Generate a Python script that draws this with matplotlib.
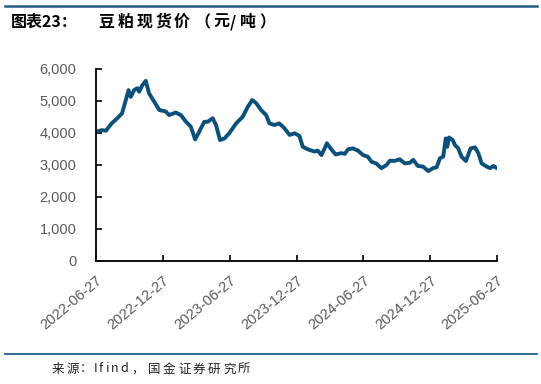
import matplotlib
matplotlib.use("Agg")
import matplotlib.pyplot as plt
from matplotlib.lines import Line2D
import pandas as pd

dates = [
    "2022-06-27", "2022-07-13", "2022-07-24", "2022-08-09", "2022-08-24", "2022-09-06",
    "2022-09-14", "2022-09-24", "2022-09-30", "2022-10-09", "2022-10-18", "2022-10-23",
    "2022-11-01", "2022-11-10", "2022-11-19", "2022-12-03", "2022-12-17", "2023-01-04",
    "2023-01-13", "2023-01-31", "2023-02-14", "2023-02-28", "2023-03-13", "2023-03-25",
    "2023-04-05", "2023-04-19", "2023-04-28", "2023-05-12", "2023-05-21", "2023-06-01",
    "2023-06-13", "2023-06-26", "2023-07-15", "2023-08-02", "2023-08-16", "2023-08-28",
    "2023-09-08", "2023-09-21", "2023-10-05", "2023-10-14", "2023-10-28", "2023-11-10",
    "2023-11-24", "2023-12-08", "2023-12-22", "2024-01-04", "2024-01-13", "2024-01-27",
    "2024-02-14", "2024-02-23", "2024-03-04", "2024-03-13", "2024-03-19", "2024-03-31",
    "2024-04-12", "2024-04-27", "2024-05-07", "2024-05-16", "2024-05-29", "2024-06-12",
    "2024-06-26", "2024-07-09", "2024-07-19", "2024-08-01", "2024-08-15", "2024-08-29",
    "2024-09-07", "2024-09-21", "2024-10-04", "2024-10-18", "2024-11-01", "2024-11-10",
    "2024-11-23", "2024-12-07", "2024-12-21", "2025-01-03", "2025-01-13", "2025-01-22",
    "2025-01-31", "2025-02-07", "2025-02-11", "2025-02-16", "2025-02-26", "2025-03-04",
    "2025-03-13", "2025-03-22", "2025-04-03", "2025-04-09", "2025-04-16", "2025-04-28",
    "2025-05-07", "2025-05-16", "2025-05-30", "2025-06-08", "2025-06-17", "2025-06-27",
]
prices = [
    4040, 4090, 4070, 4300, 4460, 4610,
    4930, 5340, 5130, 5340, 5400, 5290,
    5500, 5630, 5240, 4980, 4720, 4670,
    4560, 4640, 4560, 4350, 4200, 3800,
    4040, 4350, 4350, 4460, 4250, 3780,
    3830, 3990, 4300, 4510, 4820, 5030,
    4930, 4720, 4560, 4300, 4250, 4300,
    4150, 3940, 3990, 3910, 3570, 3490,
    3420, 3450, 3310, 3520, 3680, 3490,
    3330, 3370, 3350, 3490, 3520, 3450,
    3310, 3260, 3100, 3050, 2900, 3000,
    3130, 3130, 3180, 3050, 3070, 3160,
    2970, 2950, 2810, 2900, 2930, 3210,
    3260, 3830, 3570, 3860, 3780, 3625,
    3520, 3260, 3125, 3310, 3520, 3550,
    3370, 3050, 2950, 2900, 2970, 2900,
]
xtick_labels = ["2022-06-27", "2022-12-27", "2023-06-27", "2023-12-27",
                "2024-06-27", "2024-12-27", "2025-06-27"]
yticks = [0, 1000, 2000, 3000, 4000, 5000, 6000]

title_head = "图表23："
title_chars = ["豆", "粕", "现", "货", "价", "（", "元", "/", "吨", "）"]
source_chars = ["来", "源", "：", "I", "f", "i", "n", "d", "，",
                "国", "金", "证", "券", "研", "究", "所"]

# layout (pixel x positions of each glyph)
title_head_x = 11
title_x = [98, 118, 137, 155, 174, 194, 213, 230, 240, 259]
source_x = [52, 67, 80, 94, 99, 106, 111, 120, 131, 148, 163, 178, 193, 208, 223, 238]

W, H = 541, 384
fig = plt.figure(figsize=(W / 100, H / 100), dpi=100)
ax = fig.add_axes([96 / W, 1 - 261 / H, (497 - 96) / W, (261 - 69) / H])

x = pd.to_datetime(dates)
ax.plot(x, prices, color="#0b5078", linewidth=2.8, solid_joinstyle="round",
        solid_capstyle="round")

tick_dates = pd.to_datetime(xtick_labels)
ax.set_xlim(tick_dates[0], tick_dates[-1])
ax.set_ylim(0, 6000)
ax.set_xticks(tick_dates)
ax.set_xticklabels(xtick_labels, rotation=40, ha="right", rotation_mode="anchor",
                   fontsize=10.5, color="#595959", family="Liberation Sans")
ax.set_yticks(yticks)
ax.set_yticklabels([f"{v:,}" for v in yticks], fontsize=10.5, color="#595959",
                   family="Liberation Sans")
ax.tick_params(axis="both", direction="in", length=4, width=1.2, color="black")
ax.tick_params(axis="x", pad=9)
ax.tick_params(axis="y", pad=14)
for s in ["top", "right"]:
    ax.spines[s].set_visible(False)
for s in ["left", "bottom"]:
    ax.spines[s].set_linewidth(1.3)
    ax.spines[s].set_color("black")

# decorative rules
fig.add_artist(Line2D([5 / W, 537 / W], [1 - 5.5 / H, 1 - 5.5 / H],
                      color="#1f5f85", linewidth=1.8, transform=fig.transFigure))
fig.add_artist(Line2D([5 / W, 537 / W], [1 - 354 / H, 1 - 354 / H],
                      color="#1f5f85", linewidth=1.3, transform=fig.transFigure))

cjk = ["Noto Sans CJK SC", "DejaVu Sans"]
fig.text(title_head_x / W, 1 - 22 / H, title_head, fontsize=11.5, fontweight="bold",
         family=cjk, va="center", ha="left", color="black")
for ch, px in zip(title_chars, title_x):
    fig.text(px / W, 1 - 22 / H, ch, fontsize=11.5, fontweight="bold",
             family=cjk, va="center", ha="left", color="black")
for ch, px in zip(source_chars, source_x):
    fig.text(px / W, 1 - 369 / H, ch, fontsize=9,
             family=cjk, va="center", ha="left", color="#222222")

fig.savefig("out.png", dpi=100)
